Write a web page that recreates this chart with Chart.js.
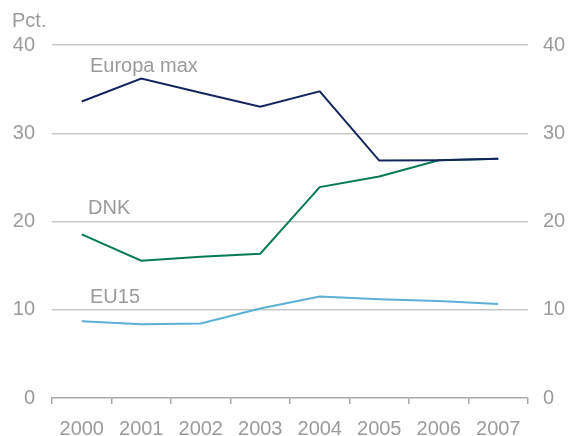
<!DOCTYPE html>
<html>
<head>
<meta charset="utf-8">
<style>
  html, body { margin: 0; padding: 0; background: #fff; }
  #wrap { width: 570px; height: 436px; }
</style>
<script src="https://cdn.jsdelivr.net/npm/chart.js@4/dist/chart.umd.min.js"></script>
</head>
<body>
<div id="wrap"><canvas id="chart" width="570" height="436"></canvas></div>
<script>
const years = ['2000', '2001', '2002', '2003', '2004', '2005', '2006', '2007'];
const europaMax = [33.6, 36.2, 34.6, 33.0, 34.75, 26.9, 26.95, 27.1];
const dnk = [18.55, 15.55, 16.0, 16.35, 23.9, 25.1, 26.95, 27.1];
const eu15 = [8.7, 8.35, 8.45, 10.15, 11.5, 11.2, 11.0, 10.65];
const yTicks = [0, 10, 20, 30, 40];

const textColor = '#9b9b9b';
const fontFamily = 'Arial, "Liberation Sans", sans-serif';

// series names written inside the plot, next to their lines
const seriesLabels = [
  { text: 'Europa max', value: 36.9 },
  { text: 'DNK', value: 20.85, dx: -2 },
  { text: 'EU15', value: 10.76 },
];

const textPlugin = {
  id: 'texts',
  afterDraw(chart) {
    const { ctx, chartArea, scales } = chart;
    ctx.save();
    ctx.fillStyle = textColor;
    ctx.font = '20px ' + fontFamily;
    ctx.textBaseline = 'alphabetic';
    ctx.textAlign = 'left';
    ctx.fillText('Pct.', 12, 27);
    for (const l of seriesLabels) {
      ctx.fillText(l.text, chartArea.left + 38 + (l.dx || 0), scales.y.getPixelForValue(l.value));
    }
    ctx.restore();
  },
};

function line(data, color) {
  return {
    data,
    borderColor: color,
    borderWidth: 2,
    pointRadius: 0,
    tension: 0,
    fill: false,
  };
}

const yTickOpts = (padding) => ({
  color: textColor,
  font: { size: 20, family: fontFamily },
  padding,
  callback: (v) => (yTicks.includes(v) ? v : null),
  stepSize: 10,
});

new Chart(document.getElementById('chart'), {
  type: 'line',
  data: {
    labels: years,
    datasets: [
      line(europaMax, '#16245e'),
      line(dnk, '#067a53'),
      line(eu15, '#5cb0d6'),
    ],
  },
  plugins: [textPlugin],
  options: {
    responsive: false,
    animation: false,
    layout: { padding: { top: 45, left: 0, right: 0, bottom: 0 } },
    plugins: { legend: { display: false }, tooltip: { enabled: false } },
    scales: {
      x: {
        offset: true,
        grid: {
          offset: true,
          drawOnChartArea: false,
          drawTicks: true,
          tickLength: 6,
          color: '#a8a8a8',
          lineWidth: 1.5,
        },
        border: { display: true, color: '#a8a8a8', width: 1.5 },
        ticks: {
          color: textColor,
          font: { size: 20, family: fontFamily },
          padding: 13,
          maxRotation: 0,
          autoSkip: false,
        },
        afterFit: (s) => { s.height = 38; },
      },
      y: {
        position: 'left',
        min: 0,
        max: 40,
        grid: {
          color: (c) => (c.tick && c.tick.value === 0 ? 'rgba(0,0,0,0)' : '#c8c8c8'),
          lineWidth: 1.5,
          drawTicks: false,
        },
        border: { display: false },
        ticks: yTickOpts(17),
        afterFit: (s) => { s.width = 52; },
      },
      y2: {
        position: 'right',
        min: 0,
        max: 40,
        grid: { display: false, drawTicks: false },
        border: { display: false },
        ticks: yTickOpts(15),
        afterFit: (s) => { s.width = 42; },
      },
    },
  },
});
</script>
</body>
</html>
